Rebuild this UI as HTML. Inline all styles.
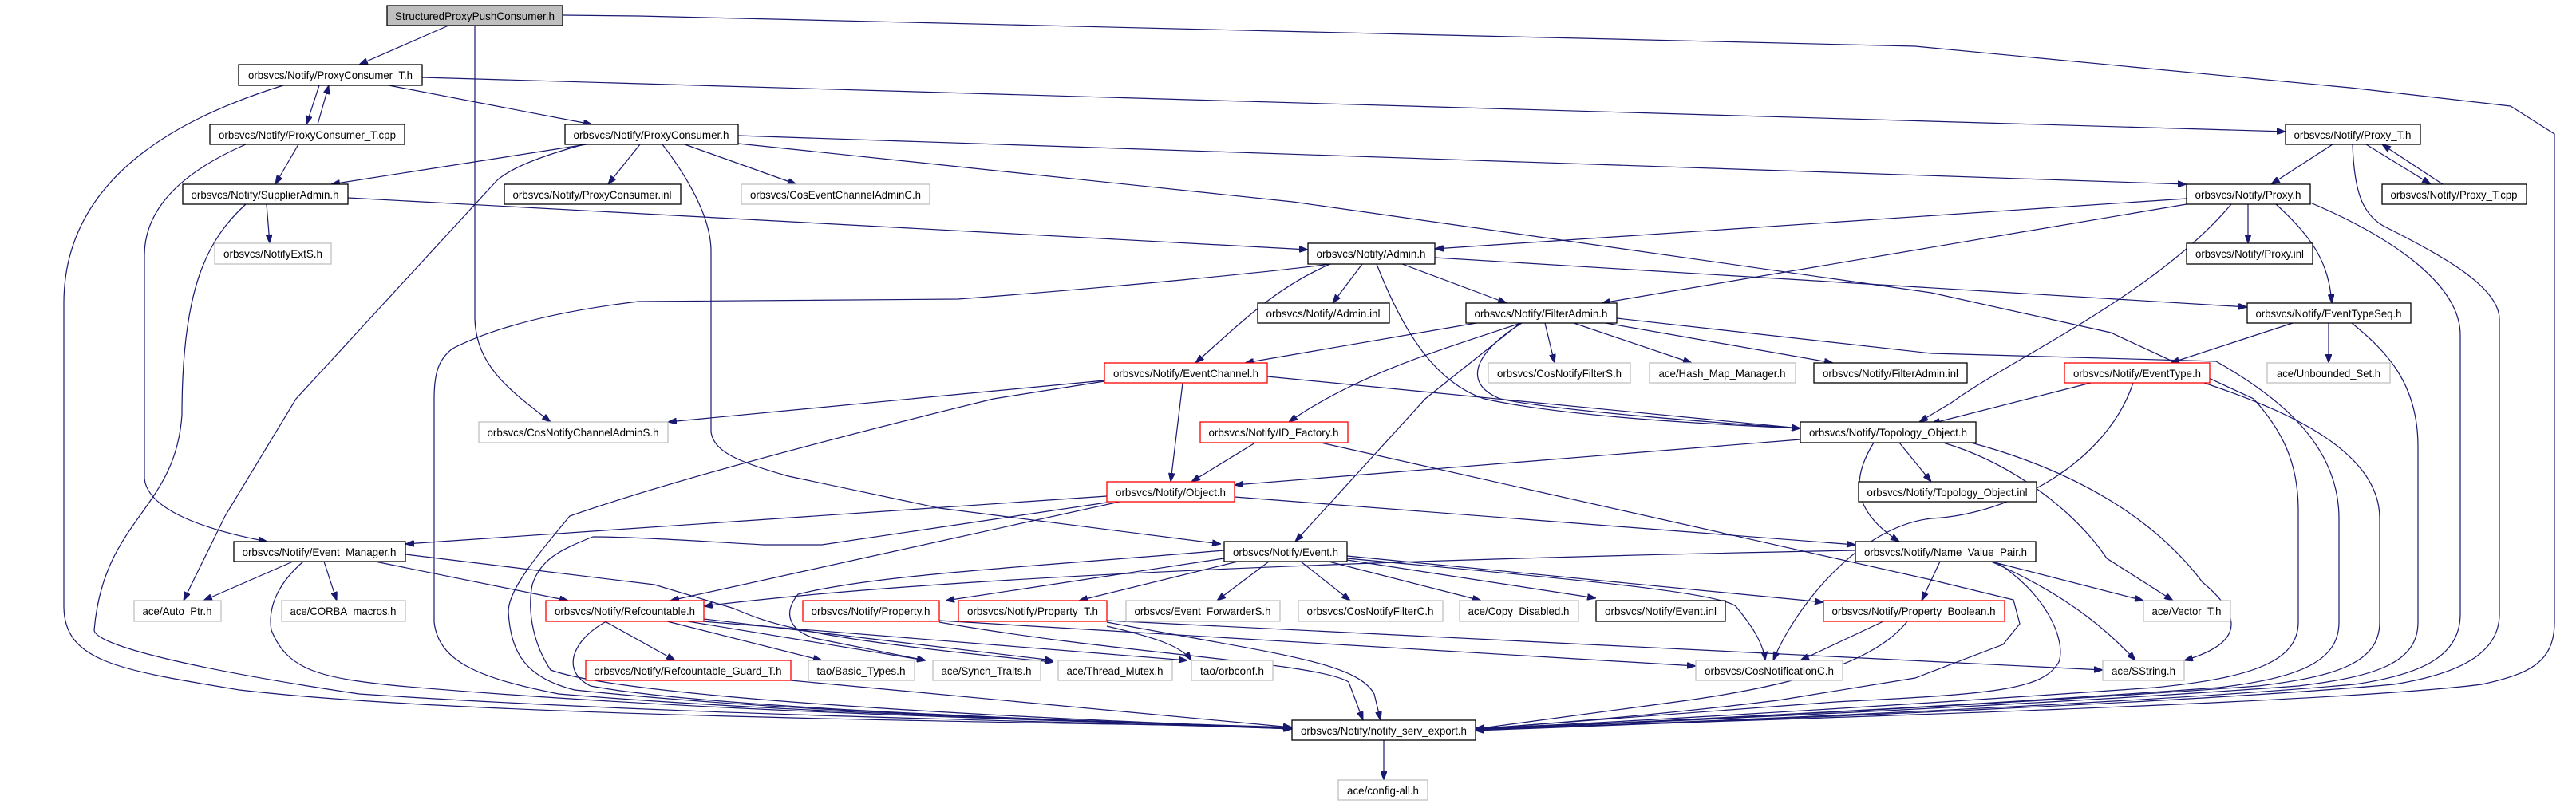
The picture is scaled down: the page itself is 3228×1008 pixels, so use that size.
<!DOCTYPE html>
<html><head><meta charset="utf-8"><style>
html,body{margin:0;padding:0;background:#fff;}
svg{display:block;}
.n rect{fill:#fff;stroke:#000;stroke-width:1.3;}
.g rect{fill:#fff;stroke:#bfbfbf;stroke-width:1.3;}
.r rect{fill:#fff;stroke:#ff0000;stroke-width:1.3;}
.s rect{fill:#bfbfbf;stroke:#000;stroke-width:1.3;}
text{font-family:"Liberation Sans",sans-serif;font-size:14px;fill:#000;}
path{fill:none;stroke:#191970;stroke-width:1.2;marker-end:url(#a);}
</style></head><body>
<svg width="3228" height="1008" viewBox="0 0 3228 1008" xmlns="http://www.w3.org/2000/svg">
<defs><marker id="a" markerUnits="userSpaceOnUse" markerWidth="11" markerHeight="8" refX="11" refY="4" orient="auto"><polygon points="0,0 11,4 0,8" fill="#191970" stroke="#191970"/></marker></defs>
<g>
<path d="M562,32 L450,81"/>
<path d="M595,32 L595,400 C597,460 640,490 690,529"/>
<path d="M705,19 L800,20 L2400,58 L2945,110 L3146,133 L3201,168 L3201,780 C3201,830 3170,845 3110,858 C2900,885 2000,908 1849,915"/>
<path d="M400,107 L384,156"/>
<path d="M398,156 L412,107"/>
<path d="M487,107 L742,156"/>
<path d="M529,97 L2864,165"/>
<path d="M355,107 C250,140 80,210 80,380 L80,760 C80,830 150,840 300,865 C600,900 1300,905 1619,912"/>
<path d="M374,181 L345,231"/>
<path d="M308,181 C230,215 181,260 181,320 L181,600 C185,640 260,665 335,679"/>
<path d="M334,256 L338,305"/>
<path d="M436,248 L1639,313"/>
<path d="M308,256 C260,300 228,360 228,520 C220,640 130,650 118,790 C120,810 250,840 450,870 C900,900 1400,905 1619,914"/>
<path d="M735,181 L415,231"/>
<path d="M802,181 L762,231"/>
<path d="M858,181 L998,231"/>
<path d="M925,170 L2740,231"/>
<path d="M732,181 C680,195 640,210 622,227 L371,500 L282,647 L230,753"/>
<path d="M830,181 C860,220 890,270 891,313 L891,542 C895,565 920,578 988,597 L1177,637 L1530,682"/>
<path d="M925,180 L1620,253 L2420,367 L2645,417 L2824,500 C2860,540 2880,580 2880,640 L2880,780 C2880,830 2820,850 2700,862 C2300,890 1950,910 1849,913"/>
<path d="M2923,181 L2846,231"/>
<path d="M2965,181 L3046,231"/>
<path d="M3061,231 L2985,181"/>
<path d="M2948,181 C2950,240 2960,270 2990,285 C3060,320 3132,360 3132,400 L3132,770 C3132,820 3080,845 3000,858 C2700,885 2000,910 1849,916"/>
<path d="M2740,249 L1798,312"/>
<path d="M2740,256 L2007,380"/>
<path d="M2817,256 L2817,305"/>
<path d="M2852,256 C2900,300 2918,330 2922,380"/>
<path d="M2796,256 C2700,370 2520,450 2445,505 L2405,529"/>
<path d="M2895,254 C2980,290 3083,350 3083,420 L3083,770 C3083,820 3040,845 2950,858 C2650,885 2000,910 1849,915"/>
<path d="M1667,331 C1600,360 1560,400 1498,455"/>
<path d="M1707,331 L1670,380"/>
<path d="M1757,331 L1888,380"/>
<path d="M1798,323 L2816,385"/>
<path d="M1725,331 C1760,420 1800,480 1860,500 C1950,520 2100,530 2256,537"/>
<path d="M1667,331 C1600,340 1400,360 1200,375 L800,378 C700,390 620,410 567,437 C550,450 544,467 544,500 L544,780 C550,830 600,850 700,870 C1000,895 1400,905 1619,913"/>
<path d="M1850,405 L1560,455"/>
<path d="M1936,405 L1948,455"/>
<path d="M1972,405 L2120,455"/>
<path d="M2012,405 L2297,455"/>
<path d="M1906,405 C1800,440 1700,470 1615,529"/>
<path d="M1907,405 C1850,440 1830,480 1880,500 C1950,515 2150,530 2256,537"/>
<path d="M1905,405 L1786,500 L1623,679"/>
<path d="M2026,399 L2420,443 L2777,453 C2860,500 2931,560 2931,650 L2931,780 C2931,830 2880,850 2780,862 C2400,890 1950,910 1849,914"/>
<path d="M2873,405 L2720,455"/>
<path d="M2918,405 L2918,455"/>
<path d="M2947,405 C2990,440 3030,480 3030,560 L3030,780 C3030,830 2980,848 2880,860 C2500,888 1950,910 1849,915"/>
<path d="M2620,480 L2420,531"/>
<path d="M2673,480 C2640,580 2520,645 2420,650 C2330,660 2250,760 2222,828"/>
<path d="M2762,480 C2850,510 2982,560 2982,650 L2982,780 C2982,830 2930,848 2830,860 C2450,888 1950,910 1849,914"/>
<path d="M1384,477 L837,529"/>
<path d="M1588,472 L2256,537"/>
<path d="M1482,480 L1467,604"/>
<path d="M1384,478 L1245,500 C1000,560 820,610 714,647 C670,700 637,740 637,767 C640,820 660,850 720,865 C1000,895 1400,905 1619,912"/>
<path d="M1573,555 L1493,604"/>
<path d="M1655,555 L2420,727 L2523,752 L2531,782 L2510,808 L2400,850 L2228,878 C2050,900 1900,910 1849,914"/>
<path d="M1387,622 L508,682"/>
<path d="M1547,623 L2325,683"/>
<path d="M1403,629 L840,753"/>
<path d="M1387,630 L1030,683 L957,683 C900,680 800,673 743,673 C700,690 677,702 667,733 C660,770 670,810 690,840 C800,880 1400,905 1619,913"/>
<path d="M2256,551 L1547,608"/>
<path d="M2380,555 L2420,604"/>
<path d="M2348,555 C2320,600 2320,640 2380,679"/>
<path d="M2435,555 C2520,580 2600,640 2640,700 L2723,753"/>
<path d="M2470,555 C2600,590 2700,650 2760,730 C2820,780 2800,810 2737,828"/>
<path d="M2431,704 L2408,753"/>
<path d="M2325,690 C1800,700 1200,720 882,760"/>
<path d="M2495,704 L2686,753"/>
<path d="M2495,704 C2600,750 2650,800 2676,828"/>
<path d="M2500,704 C2560,740 2590,800 2580,830 C2560,865 2500,870 2300,880 L1849,914"/>
<path d="M1534,700 L1185,753"/>
<path d="M1551,704 L1352,753"/>
<path d="M1590,704 L1525,753"/>
<path d="M1630,704 L1692,753"/>
<path d="M1665,704 L1856,753"/>
<path d="M1688,702 L2000,750"/>
<path d="M1688,697 L2285,755"/>
<path d="M1688,700 C1900,720 2150,740 2175,760 C2200,790 2210,810 2212,828"/>
<path d="M1534,690 C1300,710 1100,720 1000,745 C980,770 990,790 1020,800 L1160,828"/>
<path d="M758,779 L846,828"/>
<path d="M836,779 L1030,828"/>
<path d="M862,779 L1160,828"/>
<path d="M882,776 L1320,828"/>
<path d="M880,779 L1488,828"/>
<path d="M760,779 C720,800 700,840 740,860 C900,890 1400,905 1619,914"/>
<path d="M991,853 L1619,912"/>
<path d="M367,704 L255,753"/>
<path d="M406,704 L422,753"/>
<path d="M470,704 L712,753"/>
<path d="M508,695 L820,733 L920,763 C960,780 1000,800 1320,830"/>
<path d="M380,704 C350,730 335,760 340,790 C360,840 400,850 500,860 C900,895 1400,905 1619,913"/>
<path d="M1177,778 L2125,835"/>
<path d="M1177,780 C1400,820 1650,830 1690,855 L1708,903"/>
<path d="M1387,778 L2635,840"/>
<path d="M1387,780 C1600,820 1700,830 1722,870 L1730,903"/>
<path d="M1387,785 C1450,800 1480,810 1493,828"/>
<path d="M2360,779 L2256,828"/>
<path d="M2390,779 C2350,830 2250,860 2100,880 L1849,914"/>
<path d="M1734,928 L1734,978"/>
</g>
<g class="s"><rect x="485" y="7" width="220" height="25"/><text x="595" y="25" text-anchor="middle" textLength="200" lengthAdjust="spacingAndGlyphs">StructuredProxyPushConsumer.h</text></g>
<g class="n"><rect x="299" y="81" width="230" height="26"/><text x="414" y="99" text-anchor="middle" textLength="206" lengthAdjust="spacingAndGlyphs">orbsvcs/Notify/ProxyConsumer_T.h</text></g>
<g class="n"><rect x="263" y="156" width="244" height="25"/><text x="385" y="174" text-anchor="middle" textLength="222" lengthAdjust="spacingAndGlyphs">orbsvcs/Notify/ProxyConsumer_T.cpp</text></g>
<g class="n"><rect x="708" y="156" width="217" height="25"/><text x="816" y="174" text-anchor="middle" textLength="195" lengthAdjust="spacingAndGlyphs">orbsvcs/Notify/ProxyConsumer.h</text></g>
<g class="n"><rect x="229" y="231" width="207" height="25"/><text x="332" y="249" text-anchor="middle" textLength="185" lengthAdjust="spacingAndGlyphs">orbsvcs/Notify/SupplierAdmin.h</text></g>
<g class="n"><rect x="632" y="231" width="221" height="25"/><text x="742" y="249" text-anchor="middle" textLength="199" lengthAdjust="spacingAndGlyphs">orbsvcs/Notify/ProxyConsumer.inl</text></g>
<g class="g"><rect x="929" y="231" width="236" height="25"/><text x="1047" y="249" text-anchor="middle" textLength="214" lengthAdjust="spacingAndGlyphs">orbsvcs/CosEventChannelAdminC.h</text></g>
<g class="g"><rect x="269" y="305" width="146" height="26"/><text x="342" y="323" text-anchor="middle" textLength="124" lengthAdjust="spacingAndGlyphs">orbsvcs/NotifyExtS.h</text></g>
<g class="n"><rect x="2864" y="156" width="169" height="25"/><text x="2948" y="174" text-anchor="middle" textLength="147" lengthAdjust="spacingAndGlyphs">orbsvcs/Notify/Proxy_T.h</text></g>
<g class="n"><rect x="2740" y="231" width="155" height="25"/><text x="2817" y="249" text-anchor="middle" textLength="133" lengthAdjust="spacingAndGlyphs">orbsvcs/Notify/Proxy.h</text></g>
<g class="n"><rect x="2985" y="231" width="181" height="25"/><text x="3075" y="249" text-anchor="middle" textLength="159" lengthAdjust="spacingAndGlyphs">orbsvcs/Notify/Proxy_T.cpp</text></g>
<g class="n"><rect x="2740" y="305" width="158" height="26"/><text x="2819" y="323" text-anchor="middle" textLength="136" lengthAdjust="spacingAndGlyphs">orbsvcs/Notify/Proxy.inl</text></g>
<g class="n"><rect x="1639" y="305" width="159" height="26"/><text x="1718" y="323" text-anchor="middle" textLength="137" lengthAdjust="spacingAndGlyphs">orbsvcs/Notify/Admin.h</text></g>
<g class="n"><rect x="1576" y="380" width="165" height="25"/><text x="1658" y="398" text-anchor="middle" textLength="143" lengthAdjust="spacingAndGlyphs">orbsvcs/Notify/Admin.inl</text></g>
<g class="n"><rect x="1837" y="380" width="189" height="25"/><text x="1931" y="398" text-anchor="middle" textLength="167" lengthAdjust="spacingAndGlyphs">orbsvcs/Notify/FilterAdmin.h</text></g>
<g class="n"><rect x="2816" y="380" width="205" height="25"/><text x="2918" y="398" text-anchor="middle" textLength="183" lengthAdjust="spacingAndGlyphs">orbsvcs/Notify/EventTypeSeq.h</text></g>
<g class="r"><rect x="1384" y="455" width="204" height="25"/><text x="1486" y="473" text-anchor="middle" textLength="182" lengthAdjust="spacingAndGlyphs">orbsvcs/Notify/EventChannel.h</text></g>
<g class="g"><rect x="1865" y="455" width="178" height="25"/><text x="1954" y="473" text-anchor="middle" textLength="156" lengthAdjust="spacingAndGlyphs">orbsvcs/CosNotifyFilterS.h</text></g>
<g class="g"><rect x="2067" y="455" width="183" height="25"/><text x="2158" y="473" text-anchor="middle" textLength="159" lengthAdjust="spacingAndGlyphs">ace/Hash_Map_Manager.h</text></g>
<g class="n"><rect x="2273" y="455" width="192" height="25"/><text x="2369" y="473" text-anchor="middle" textLength="170" lengthAdjust="spacingAndGlyphs">orbsvcs/Notify/FilterAdmin.inl</text></g>
<g class="r"><rect x="2587" y="455" width="182" height="25"/><text x="2678" y="473" text-anchor="middle" textLength="160" lengthAdjust="spacingAndGlyphs">orbsvcs/Notify/EventType.h</text></g>
<g class="g"><rect x="2841" y="455" width="154" height="25"/><text x="2918" y="473" text-anchor="middle" textLength="130" lengthAdjust="spacingAndGlyphs">ace/Unbounded_Set.h</text></g>
<g class="g"><rect x="600" y="529" width="237" height="26"/><text x="718" y="547" text-anchor="middle" textLength="215" lengthAdjust="spacingAndGlyphs">orbsvcs/CosNotifyChannelAdminS.h</text></g>
<g class="r"><rect x="1504" y="529" width="185" height="26"/><text x="1596" y="547" text-anchor="middle" textLength="163" lengthAdjust="spacingAndGlyphs">orbsvcs/Notify/ID_Factory.h</text></g>
<g class="n"><rect x="2256" y="529" width="220" height="26"/><text x="2366" y="547" text-anchor="middle" textLength="198" lengthAdjust="spacingAndGlyphs">orbsvcs/Notify/Topology_Object.h</text></g>
<g class="r"><rect x="1387" y="604" width="160" height="25"/><text x="1467" y="622" text-anchor="middle" textLength="138" lengthAdjust="spacingAndGlyphs">orbsvcs/Notify/Object.h</text></g>
<g class="n"><rect x="2329" y="604" width="223" height="25"/><text x="2440" y="622" text-anchor="middle" textLength="201" lengthAdjust="spacingAndGlyphs">orbsvcs/Notify/Topology_Object.inl</text></g>
<g class="n"><rect x="293" y="679" width="215" height="25"/><text x="400" y="697" text-anchor="middle" textLength="193" lengthAdjust="spacingAndGlyphs">orbsvcs/Notify/Event_Manager.h</text></g>
<g class="n"><rect x="1534" y="679" width="154" height="25"/><text x="1611" y="697" text-anchor="middle" textLength="132" lengthAdjust="spacingAndGlyphs">orbsvcs/Notify/Event.h</text></g>
<g class="n"><rect x="2325" y="679" width="226" height="25"/><text x="2438" y="697" text-anchor="middle" textLength="204" lengthAdjust="spacingAndGlyphs">orbsvcs/Notify/Name_Value_Pair.h</text></g>
<g class="g"><rect x="168" y="753" width="109" height="26"/><text x="222" y="771" text-anchor="middle" textLength="87" lengthAdjust="spacingAndGlyphs">ace/Auto_Ptr.h</text></g>
<g class="g"><rect x="353" y="753" width="155" height="26"/><text x="430" y="771" text-anchor="middle" textLength="133" lengthAdjust="spacingAndGlyphs">ace/CORBA_macros.h</text></g>
<g class="r"><rect x="684" y="753" width="198" height="26"/><text x="783" y="771" text-anchor="middle" textLength="176" lengthAdjust="spacingAndGlyphs">orbsvcs/Notify/Refcountable.h</text></g>
<g class="r"><rect x="1006" y="753" width="171" height="26"/><text x="1091" y="771" text-anchor="middle" textLength="149" lengthAdjust="spacingAndGlyphs">orbsvcs/Notify/Property.h</text></g>
<g class="r"><rect x="1201" y="753" width="186" height="26"/><text x="1294" y="771" text-anchor="middle" textLength="164" lengthAdjust="spacingAndGlyphs">orbsvcs/Notify/Property_T.h</text></g>
<g class="g"><rect x="1411" y="753" width="193" height="26"/><text x="1507" y="771" text-anchor="middle" textLength="171" lengthAdjust="spacingAndGlyphs">orbsvcs/Event_ForwarderS.h</text></g>
<g class="g"><rect x="1627" y="753" width="181" height="26"/><text x="1717" y="771" text-anchor="middle" textLength="159" lengthAdjust="spacingAndGlyphs">orbsvcs/CosNotifyFilterC.h</text></g>
<g class="g"><rect x="1829" y="753" width="149" height="26"/><text x="1903" y="771" text-anchor="middle" textLength="127" lengthAdjust="spacingAndGlyphs">ace/Copy_Disabled.h</text></g>
<g class="n"><rect x="2000" y="753" width="162" height="26"/><text x="2081" y="771" text-anchor="middle" textLength="140" lengthAdjust="spacingAndGlyphs">orbsvcs/Notify/Event.inl</text></g>
<g class="r"><rect x="2285" y="753" width="227" height="26"/><text x="2398" y="771" text-anchor="middle" textLength="205" lengthAdjust="spacingAndGlyphs">orbsvcs/Notify/Property_Boolean.h</text></g>
<g class="g"><rect x="2686" y="753" width="109" height="26"/><text x="2740" y="771" text-anchor="middle" textLength="87" lengthAdjust="spacingAndGlyphs">ace/Vector_T.h</text></g>
<g class="r"><rect x="734" y="828" width="257" height="25"/><text x="862" y="846" text-anchor="middle" textLength="235" lengthAdjust="spacingAndGlyphs">orbsvcs/Notify/Refcountable_Guard_T.h</text></g>
<g class="g"><rect x="1013" y="828" width="133" height="25"/><text x="1079" y="846" text-anchor="middle" textLength="111" lengthAdjust="spacingAndGlyphs">tao/Basic_Types.h</text></g>
<g class="g"><rect x="1169" y="828" width="135" height="25"/><text x="1236" y="846" text-anchor="middle" textLength="113" lengthAdjust="spacingAndGlyphs">ace/Synch_Traits.h</text></g>
<g class="g"><rect x="1326" y="828" width="143" height="25"/><text x="1397" y="846" text-anchor="middle" textLength="121" lengthAdjust="spacingAndGlyphs">ace/Thread_Mutex.h</text></g>
<g class="g"><rect x="1493" y="828" width="102" height="25"/><text x="1544" y="846" text-anchor="middle" textLength="80" lengthAdjust="spacingAndGlyphs">tao/orbconf.h</text></g>
<g class="g"><rect x="2125" y="828" width="184" height="25"/><text x="2217" y="846" text-anchor="middle" textLength="162" lengthAdjust="spacingAndGlyphs">orbsvcs/CosNotificationC.h</text></g>
<g class="g"><rect x="2635" y="828" width="102" height="25"/><text x="2686" y="846" text-anchor="middle" textLength="80" lengthAdjust="spacingAndGlyphs">ace/SString.h</text></g>
<g class="n"><rect x="1619" y="903" width="230" height="25"/><text x="1734" y="921" text-anchor="middle" textLength="208" lengthAdjust="spacingAndGlyphs">orbsvcs/Notify/notify_serv_export.h</text></g>
<g class="g"><rect x="1677" y="978" width="112" height="25"/><text x="1733" y="996" text-anchor="middle" textLength="90" lengthAdjust="spacingAndGlyphs">ace/config-all.h</text></g>
</svg>
</body></html>
